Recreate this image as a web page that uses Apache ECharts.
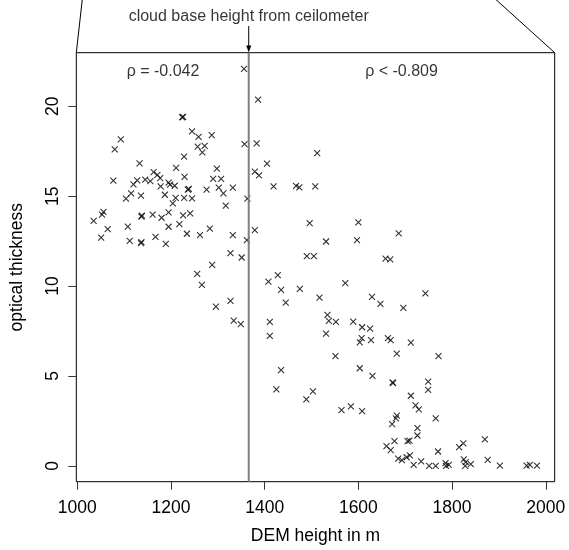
<!DOCTYPE html>
<html>
<head>
<meta charset="utf-8">
<script src="https://cdn.jsdelivr.net/npm/echarts@6/dist/echarts.min.js"></script>
<style>
  html, body { margin: 0; padding: 0; background: #fff; }
  #chart { width: 569px; height: 550px; }
</style>
</head>
<body>
<div id="chart"></div>
<script>
// DEM height (m) of every point
const demHeight = [
  1224, 1226, 1245, 1259, 1287, 1093, 1080, 1257, 1272, 1267, 1357, 1228, 1133, 1211, 1298,
  1163, 1171, 1177, 1229, 1290, 1307, 1077, 1128, 1145, 1156, 1120, 1195, 1198, 1208, 1178,
  1302, 1332, 1236, 1238, 1276, 1312, 1115, 1104, 1136, 1187, 1210, 1228, 1245, 1363, 1204,
  1317, 1056, 1053, 1035, 1137, 1138, 1161, 1180, 1195, 1226, 1241, 1108, 1065, 1195, 1218,
  1283, 1051, 1112, 1136, 1137, 1167, 1189, 1234, 1262, 1332, 1362, 1327, 1351, 1288, 1256,
  1266, 1327, 1296, 1334, 1349, 1356,
  1386, 1383, 1512, 1405, 1379, 1388, 1419, 1467, 1474, 1508, 1496, 1600, 1686, 1379, 1531,
  1597, 1490, 1505, 1658, 1668, 1428, 1408, 1435, 1475, 1572, 1445, 1517, 1629, 1647, 1534,
  1537, 1552, 1589, 1411, 1608, 1625, 1531, 1411, 1607, 1603, 1627, 1663, 1669, 1682, 1551,
  1435, 1603, 1630, 1673, 1674, 1425, 1503, 1489, 1564, 1584, 1608, 1682, 1680, 1672, 1677,
  1660, 1669, 1685, 1743, 1696, 1712, 1771, 1749, 1749, 1712, 1722, 1729, 1765, 1726, 1726,
  1705, 1709, 1770, 1693, 1703, 1710, 1718, 1734, 1751, 1765, 1786, 1793, 1787, 1815, 1824,
  1825, 1829, 1828, 1840, 1870, 1876, 1902, 1959, 1966, 1981
];
// optical thickness of every point, same order
const opticalThickness = [
  19.39, 19.41, 18.6, 18.3, 18.4, 18.16, 17.6, 17.75, 17.8, 17.44, 17.9, 17.2, 16.82, 16.58, 16.53,
  16.34, 16.18, 16.01, 16.07, 15.96, 15.96, 15.86, 15.88, 15.92, 15.84, 15.66, 15.75, 15.64, 15.58, 15.54,
  15.47, 15.47, 15.36, 15.4, 15.36, 15.15, 15.15, 14.86, 15.03, 15.08, 14.91, 14.91, 14.88, 14.86, 14.6,
  14.47, 14.13, 13.97, 13.63, 13.87, 13.92, 13.97, 13.8, 14.1, 13.93, 14.04, 13.31, 13.17, 13.3, 13.45,
  13.19, 12.69, 12.52, 12.39, 12.44, 12.74, 12.35, 12.91, 12.84, 12.84, 12.56, 11.83, 11.59, 11.18, 10.68,
  10.07, 9.18, 8.86, 8.08, 7.88, 22.08,
  20.37, 17.94, 17.4, 16.81, 16.36, 16.16, 15.54, 15.57, 15.49, 15.54, 13.5, 13.54, 12.93, 13.11, 12.48,
  12.56, 11.67, 11.67, 11.53, 11.48, 10.61, 10.25, 9.79, 9.84, 10.16, 9.08, 9.36, 9.4, 9.01, 8.4,
  8.06, 8.01, 8.02, 8.01, 7.71, 7.63, 7.35, 7.23, 7.11, 6.87, 7.0, 7.11, 6.99, 6.24, 6.11,
  5.33, 5.43, 5.01, 4.64, 4.6, 4.25, 4.14, 3.7, 3.1, 3.31, 3.05, 2.79, 2.64, 2.32, 1.38,
  1.1, 0.87, 0.4, 9.6, 8.79, 6.85, 6.11, 4.68, 4.23, 3.9, 3.36, 3.14, 2.64, 2.1, 1.69,
  1.38, 1.4, 0.8, 0.32, 0.48, 0.58, 0.06, 0.25, 0.0, 0.0, 0.15, 0.06, 0.0, 1.04, 1.25,
  0.36, 0.21, 0.0, 0.1, 1.47, 0.33, 0.02, 0.02, 0.06, 0.02
];
const xTicks = [1000, 1200, 1400, 1600, 1800, 2000];
const yTicks = [0, 5, 10, 15, 20];
const cloudBase = 1366; // ceilometer cloud base height
const cloudText = 'cloud base height from ceilometer';
const rhoLabels = ['ρ = -0.042', 'ρ < -0.809'];
const rhoPos = [[1183, 21.93], [1692, 21.93]];

const xMin = 998, xMax = 2019, yMin = -0.88, yMax = 22.98;
const font = 'Liberation Sans, Arial, Helvetica, sans-serif';

let points = demHeight.map((d, i) => [d, opticalThickness[i]]);

let chart = echarts.init(document.getElementById('chart'));
chart.setOption({
  animation: false,
  textStyle: { fontFamily: font },
  grid: {
    left: 76.3, right: 14.3, top: 52.7, bottom: 68.3,
    show: true, borderColor: '#000', borderWidth: 1, backgroundColor: 'transparent'
  },
  xAxis: {
    type: 'value', min: xMin, max: xMax,
    name: 'DEM height in m', nameLocation: 'middle', nameGap: 45,
    nameTextStyle: { fontSize: 17.5, color: '#000', fontFamily: font },
    axisLine: { show: false, onZero: false },
    axisTick: { show: true, length: 8, customValues: xTicks, lineStyle: { color: '#333' } },
    axisLabel: { customValues: xTicks, formatter: v => String(v), fontSize: 17.5, color: '#000', margin: 17, fontFamily: font },
    splitLine: { show: false }
  },
  yAxis: {
    type: 'value', min: yMin, max: yMax,
    name: 'optical thickness', nameLocation: 'middle', nameGap: 50,
    nameTextStyle: { fontSize: 17.5, color: '#000', fontFamily: font },
    axisLine: { show: false, onZero: false },
    axisTick: { show: true, length: 8, customValues: yTicks, lineStyle: { color: '#333' } },
    axisLabel: { customValues: yTicks, formatter: v => String(v), rotate: 90, fontSize: 17.5, color: '#000', margin: 14, fontFamily: font },
    splitLine: { show: false }
  },
  series: [
    {
      type: 'scatter',
      data: points,
      symbol: 'path://M0,0L10,10M10,0L0,10',
      symbolSize: 6,
      itemStyle: { color: 'transparent', borderColor: '#000', borderWidth: 1.1 },
      silent: true
    },
    {
      // cloud base height line
      type: 'line',
      data: [[cloudBase, yMin], [cloudBase, yMax]],
      symbol: 'none',
      lineStyle: { color: '#808080', width: 2 },
      silent: true
    },
    {
      // arrow
      type: 'line',
      clip: false,
      data: [
        { value: [cloudBase, 24.46], symbol: 'none' },
        { value: [cloudBase, 23.18], symbol: 'triangle', symbolSize: [5, 7], symbolRotate: 180 }
      ],
      showSymbol: true,
      itemStyle: { color: '#000' },
      lineStyle: { color: '#000', width: 1 },
      silent: true
    },
    {
      // arrow annotation
      type: 'scatter', symbolSize: 0, silent: true, clip: false,
      data: [[cloudBase, 24.46]],
      label: { show: true, position: 'top', distance: 1, formatter: cloudText,
               fontSize: 16, color: '#000', fontFamily: font }
    },
    {
      // zoom frame lines leaving the top corners
      type: 'line', clip: false, symbol: 'none', silent: true,
      data: [[xMin, yMax], [1010.8, 25.95]],
      lineStyle: { color: '#000', width: 1 }
    },
    {
      type: 'line', clip: false, symbol: 'none', silent: true,
      data: [[xMax, yMax], [1893, 25.95]],
      lineStyle: { color: '#000', width: 1 }
    },
    {
      type: 'scatter', symbolSize: 0, silent: true,
      data: rhoPos.map((p, i) => ({ value: p, name: rhoLabels[i] })),
      label: { show: true, position: 'inside', formatter: '{b}', fontSize: 16, color: '#000', fontFamily: font }
    }
  ]
});
</script>
</body>
</html>
